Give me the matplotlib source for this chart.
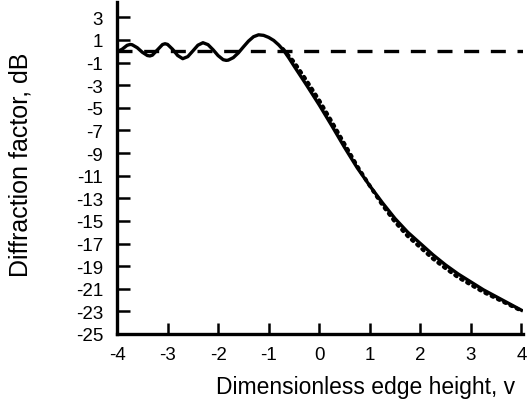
import matplotlib
matplotlib.use("Agg")
import matplotlib.pyplot as plt

# knife-edge diffraction factor (dB) against edge height v
v_solid = [-4.0, -3.9, -3.8, -3.74, -3.7, -3.6, -3.5, -3.4, -3.35, -3.3, -3.2,
           -3.1, -3.05, -3.0, -2.9, -2.8, -2.7, -2.6, -2.5, -2.4, -2.3, -2.2,
           -2.1, -2.0, -1.9, -1.84, -1.8, -1.7, -1.6, -1.5, -1.4, -1.3, -1.2,
           -1.1, -1.0, -0.9, -0.8, -0.7, -0.6, -0.5, -0.25, 0.0, 0.25, 0.5,
           0.75, 1.0, 1.25, 1.5, 1.75, 2.0, 2.25, 2.5, 2.75, 3.0, 3.25, 3.5,
           3.75, 4.0]
db_solid = [-0.05, 0.17, 0.52, 0.6, 0.57, 0.31, -0.09, -0.38, -0.42, -0.35, 0.12,
            0.59, 0.66, 0.6, 0.17, -0.38, -0.66, -0.48, 0.02, 0.53, 0.75, 0.58,
            0.13, -0.39, -0.75, -0.81, -0.79, -0.57, -0.15, 0.38, 0.89, 1.28, 1.45,
            1.4, 1.22, 0.95, 0.55, 0.05, -0.6, -1.3, -3.0, -4.75, -6.6, -8.5,
            -10.3, -11.9, -13.4, -14.8, -16.0, -17.0, -18.0, -18.9, -19.7, -20.4, -21.1, -21.7,
            -22.3, -22.9]

# approximation, drawn dotted
v_approx = [-0.72, -0.5, -0.25, 0.0, 0.25, 0.5, 0.75, 1.0, 1.25, 1.5, 1.75,
            2.0, 2.25, 2.5, 2.75, 3.0, 3.25, 3.5, 3.75, 4.0]
db_approx = [0.2, -0.95, -2.6, -4.35, -6.25, -8.2, -10.15, -11.9, -13.6, -15.1, -16.35,
             -17.35, -18.35, -19.2, -20.0, -20.65, -21.3, -21.85, -22.4, -22.95]

# free-field reference level
v_ref = [-4.0, 4.05]
db_ref = [0.0, 0.0]

xticks = [-4, -3, -2, -1, 0, 1, 2, 3, 4]
yticks = [3, 1, -1, -3, -5, -7, -9, -11, -13, -15, -17, -19, -21, -23, -25]

plt.rcParams["font.family"] = ["Liberation Sans", "DejaVu Sans"]

fig = plt.figure(figsize=(5.28, 4.10), dpi=100)
ax = fig.add_axes([117 / 528, 1 - 335 / 410, 406 / 528, 332 / 410])

ax.plot(v_ref, db_ref, color="black", lw=2.4, dashes=(4.5, 3.5))
ax.plot(v_approx, db_approx, color="black", lw=2.8, linestyle=(0, (0.5, 1.3)),
        dash_capstyle="round")
ax.plot(v_solid, db_solid, color="black", lw=2.4)

ax.set_xlim(-4, 4.03)
ax.set_ylim(-25, 4.35)
ax.set_xticks(xticks)
ax.set_yticks(yticks)
ax.set_xticklabels([str(t) for t in xticks])
ax.set_yticklabels([str(t) for t in yticks])

for side in ["top", "right"]:
    ax.spines[side].set_visible(False)
for side in ["left", "bottom"]:
    ax.spines[side].set_linewidth(2.4)

ax.tick_params(axis="y", direction="in", length=9, width=1.8, labelsize=13.5, pad=10)
ax.tick_params(axis="x", direction="in", length=8, width=1.8, labelsize=13.5, pad=9)

ax.set_xlabel("Dimensionless edge height, v", fontsize=16.5)
ax.xaxis.set_label_coords((366 - 117) / 406, -41 / 332)
ax.set_ylabel("Diffraction factor, dB", fontsize=18)
ax.yaxis.set_label_coords(-84 / 406, (335 - 165) / 332)

fig.savefig("out.png", dpi=100)
